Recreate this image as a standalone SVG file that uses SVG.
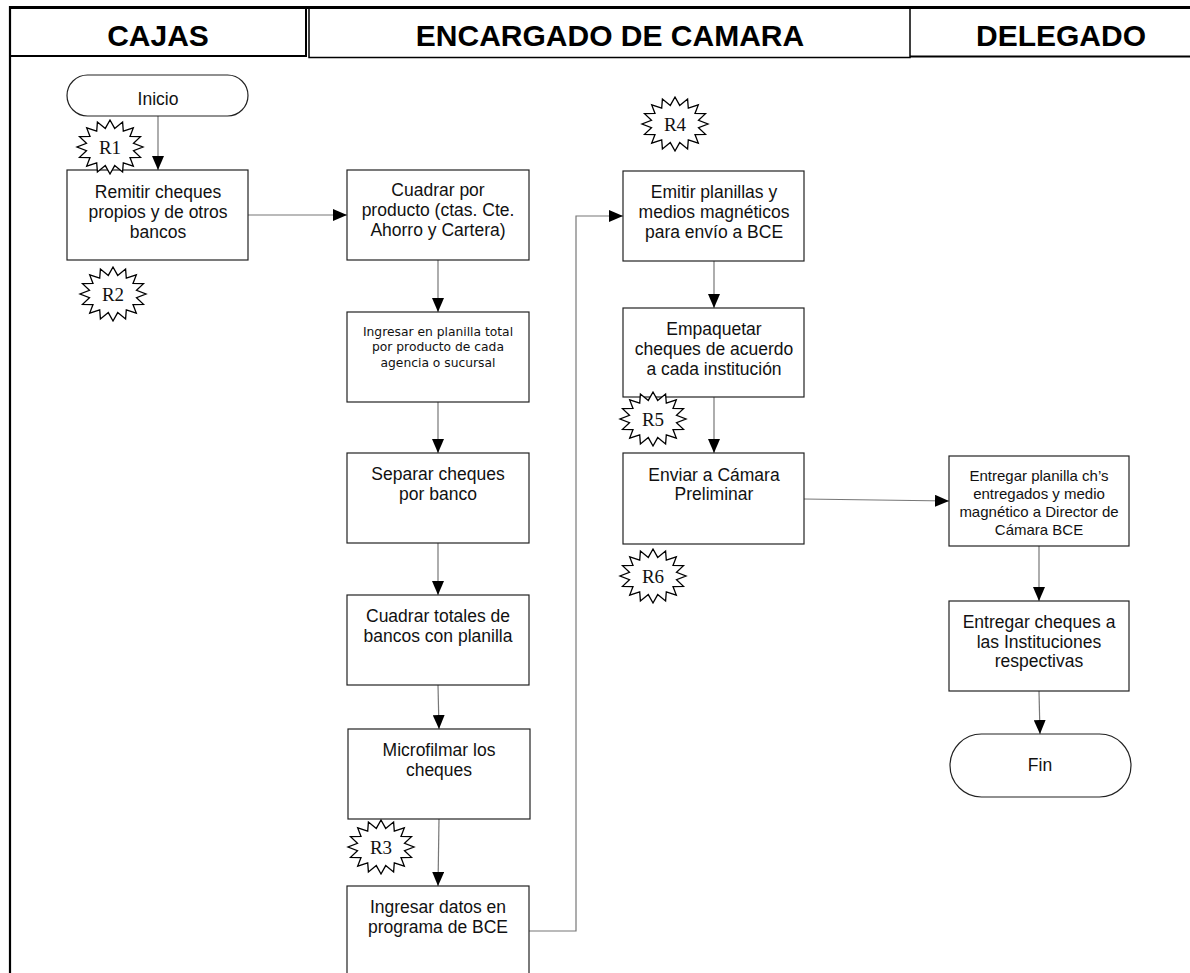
<svg xmlns="http://www.w3.org/2000/svg" xmlns:xlink="http://www.w3.org/1999/xlink" width="1190" height="973" viewBox="0 0 1190 973">
<style>
.box{fill:#fff;stroke:#222;stroke-width:1.2}
.t{font-family:"Liberation Sans",Arial,sans-serif;font-size:17.5px;fill:#111;text-anchor:middle}
.ts{font-family:"DejaVu Sans",Verdana,sans-serif;font-size:12.3px;fill:#111;text-anchor:middle}
.tm{font-family:"Liberation Sans",Arial,sans-serif;font-size:15px;fill:#111;text-anchor:middle}
.h{font-family:"Liberation Sans",Arial,sans-serif;font-size:30px;font-weight:bold;fill:#000;text-anchor:middle}
.r{font-family:"Liberation Serif","Times New Roman",serif;font-size:19px;fill:#111;text-anchor:middle}
.star{fill:#fff;stroke:#000;stroke-width:1.3;stroke-linejoin:miter}
.c{fill:none;stroke:#777;stroke-width:1.2}
.frame{fill:none;stroke:#000}
</style>
<defs>
<marker id="ah" markerUnits="userSpaceOnUse" markerWidth="14" markerHeight="12" refX="14" refY="6" orient="auto">
<path d="M0,0 L14,6 L0,12 z" fill="#000"/>
</marker>
<polygon id="star" class="star" points="0,-27 4.7,-18.6 12.6,-24.9 13.3,-15.8 23.3,-19.1 20,-10.6 30.5,-10.3 23.5,-3.7 33,0 23.5,3.7 30.5,10.3 20,10.6 23.3,19.1 13.3,15.8 12.6,24.9 4.7,18.6 0,27 -4.7,18.6 -12.6,24.9 -13.3,15.8 -23.3,19.1 -20,10.6 -30.5,10.3 -23.5,3.7 -33,0 -23.5,-3.7 -30.5,-10.3 -20,-10.6 -23.3,-19.1 -13.3,-15.8 -12.6,-24.9 -4.7,-18.6"/>
</defs>
<rect width="1190" height="973" fill="#fff"/>

<g id="frame">
<line class="frame" x1="10" y1="6" x2="10" y2="973" stroke-width="2.2"/>
<line class="frame" x1="9" y1="7.5" x2="1190" y2="7.5" stroke-width="3"/>
<rect class="frame" x="10" y="7.5" width="296" height="48.5" stroke-width="2"/>
<rect class="frame" x="309" y="7.5" width="601" height="50" stroke-width="1.5"/>
<line class="frame" x1="910" y1="56.5" x2="1190" y2="56.5" stroke-width="1.8"/>
<text class="h" x="158" y="46">CAJAS</text>
<text class="h" x="610" y="46">ENCARGADO DE CAMARA</text>
<text class="h" x="1061" y="46">DELEGADO</text>
</g>

<g id="connectors">
<line class="c" x1="158" y1="116" x2="158" y2="170" marker-end="url(#ah)"/>
<line class="c" x1="248" y1="215" x2="347" y2="215" marker-end="url(#ah)"/>
<line class="c" x1="438" y1="260" x2="438" y2="312" marker-end="url(#ah)"/>
<line class="c" x1="438" y1="402" x2="438" y2="453" marker-end="url(#ah)"/>
<line class="c" x1="438" y1="543" x2="438" y2="595" marker-end="url(#ah)"/>
<line class="c" x1="438" y1="685" x2="439" y2="729" marker-end="url(#ah)"/>
<line class="c" x1="439" y1="819" x2="438" y2="886" marker-end="url(#ah)"/>
<path class="c" d="M529,931 H576 V216 H623" marker-end="url(#ah)"/>
<line class="c" x1="714" y1="261" x2="714" y2="308" marker-end="url(#ah)"/>
<line class="c" x1="714" y1="397" x2="714" y2="453" marker-end="url(#ah)"/>
<path class="c" d="M804,499 L949,501" marker-end="url(#ah)"/>
<line class="c" x1="1039" y1="546" x2="1039" y2="601" marker-end="url(#ah)"/>
<line class="c" x1="1039" y1="691" x2="1040" y2="734" marker-end="url(#ah)"/>
</g>

<g id="inicio">
<rect class="box" x="67" y="75" width="181" height="41" rx="20.5" ry="20.5"/>
<text class="t" x="158" y="105">Inicio</text>
</g>

<g id="remitir">
<rect class="box" x="67" y="170" width="181" height="90"/>
<text class="t" x="158" y="198">Remitir cheques</text>
<text class="t" x="158" y="218">propios y de otros</text>
<text class="t" x="158" y="238">bancos</text>
</g>

<g id="cuadrar-producto">
<rect class="box" x="347" y="170" width="182" height="90"/>
<text class="t" x="438" y="196">Cuadrar por</text>
<text class="t" x="438" y="216">producto (ctas. Cte.</text>
<text class="t" x="438" y="236">Ahorro y Cartera)</text>
</g>

<g id="ingresar-planilla">
<rect class="box" x="347" y="312" width="182" height="90"/>
<text class="ts" x="438" y="335.5">Ingresar en planilla total</text>
<text class="ts" x="438" y="351">por producto de cada</text>
<text class="ts" x="438" y="366.5">agencia o sucursal</text>
</g>

<g id="separar">
<rect class="box" x="347" y="453" width="182" height="90"/>
<text class="t" x="438" y="480">Separar cheques</text>
<text class="t" x="438" y="500">por banco</text>
</g>

<g id="cuadrar-totales">
<rect class="box" x="347" y="595" width="182" height="90"/>
<text class="t" x="438" y="622">Cuadrar totales de</text>
<text class="t" x="438" y="642">bancos con planilla</text>
</g>

<g id="microfilmar">
<rect class="box" x="348" y="729" width="182" height="90"/>
<text class="t" x="439" y="756">Microfilmar los</text>
<text class="t" x="439" y="776">cheques</text>
</g>

<g id="ingresar-datos">
<rect class="box" x="347" y="886" width="182" height="92"/>
<text class="t" x="438" y="913">Ingresar datos en</text>
<text class="t" x="438" y="933">programa de BCE</text>
</g>

<g id="emitir">
<rect class="box" x="623" y="171" width="181" height="90"/>
<text class="t" x="714" y="198">Emitir planillas y</text>
<text class="t" x="714" y="218">medios magnéticos</text>
<text class="t" x="714" y="238">para envío a BCE</text>
</g>

<g id="empaquetar">
<rect class="box" x="623" y="308" width="181" height="89"/>
<text class="t" x="714" y="335">Empaquetar</text>
<text class="t" x="714" y="355">cheques de acuerdo</text>
<text class="t" x="714" y="375">a cada institución</text>
</g>

<g id="enviar">
<rect class="box" x="623" y="453" width="181" height="91"/>
<text class="t" x="714" y="481">Enviar a Cámara</text>
<text class="t" x="714" y="500">Preliminar</text>
</g>

<g id="entregar-planilla">
<rect class="box" x="949" y="456" width="180" height="90"/>
<text class="tm" x="1039" y="480.5">Entregar planilla ch’s</text>
<text class="tm" x="1039" y="498.5">entregados y medio</text>
<text class="tm" x="1039" y="516.5">magnético a Director de</text>
<text class="tm" x="1039" y="534.5">Cámara BCE</text>
</g>

<g id="entregar-cheques">
<rect class="box" x="949" y="601" width="180" height="90"/>
<text class="t" x="1039" y="628">Entregar cheques a</text>
<text class="t" x="1039" y="648">las Instituciones</text>
<text class="t" x="1039" y="667">respectivas</text>
</g>

<g id="fin">
<rect class="box" x="950" y="734" width="181" height="63" rx="31.5" ry="31.5"/>
<text class="t" x="1040" y="771">Fin</text>
</g>

<g id="r1"><use xlink:href="#star" x="110" y="147"/><text class="r" x="110" y="154">R1</text></g>
<g id="r2"><use xlink:href="#star" x="113" y="294"/><text class="r" x="113" y="301">R2</text></g>
<g id="r3"><use xlink:href="#star" x="381" y="847"/><text class="r" x="381" y="854">R3</text></g>
<g id="r4"><use xlink:href="#star" x="675" y="124"/><text class="r" x="675" y="131">R4</text></g>
<g id="r5"><use xlink:href="#star" x="653" y="419"/><text class="r" x="653" y="426">R5</text></g>
<g id="r6"><use xlink:href="#star" x="653" y="576"/><text class="r" x="653" y="583">R6</text></g>
</svg>
